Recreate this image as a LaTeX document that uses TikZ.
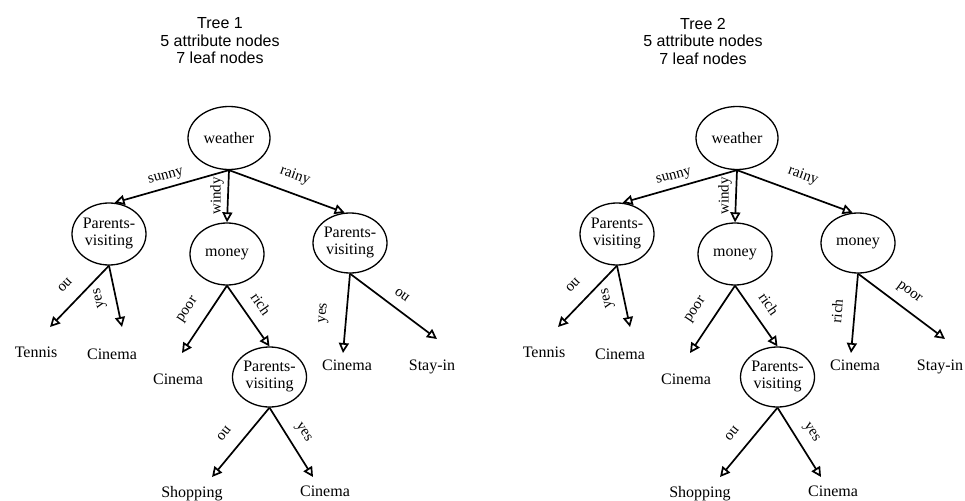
\documentclass[tikz,border=0pt]{standalone}
\usepackage{fontspec}
\setmainfont{Liberation Serif}
\newfontfamily\titlefont{Liberation Sans}
\usetikzlibrary{shapes.geometric, arrows.meta}

% zero-width box, so the ellipse size comes only from its minimum width/height
\newcommand\zw[1]{\makebox[0pt]{#1}}
\newcommand\pvtext{\begin{tabular}{@{}c@{}}Parents-\\visiting\end{tabular}}

\begin{document}
\begin{tikzpicture}[x=1pt, y=-1pt,
  attr/.style={ellipse, draw, line width=1.3pt, minimum width=74pt,
    minimum height=62pt, inner sep=0pt, font=\fontsize{16}{17}\selectfont},
  root/.style={attr, minimum width=82pt, minimum height=63pt},
  leaf/.style={anchor=base, inner sep=0pt, font=\fontsize{16}{17}\selectfont},
  elabel/.style={inner sep=0pt, font=\fontsize{15}{17}\selectfont},
  branch/.style={line width=1.7pt, -{Triangle[open, length=10pt, width=10pt, fill=white]}},
  title/.style={align=center, inner sep=0pt, font=\titlefont\fontsize{16}{17.5}\selectfont}]

\fill[white] (0,0) rectangle (965,500);
\useasboundingbox (0,0) rectangle (965,500);

% ---------- titles ----------
\node[title] (title1) at (220,41) {Tree 1\\5 attribute nodes\\7 leaf nodes};
\node[title] (title2) at (703,41) {Tree 2\\5 attribute nodes\\7 leaf nodes};

% ---------- Tree 1 ----------
\node[root] (w1) at (229,138) {\zw{weather}};
\node[attr] (p1) at (109,234) {\zw{\pvtext}};
\node[attr] (m1) at (227,254) {\zw{money}};
\node[attr, minimum height=60pt] (r1) at (350,243) {\zw{\pvtext}};
\node[attr, minimum height=60pt] (b1) at (269.5,377) {\zw{\pvtext}};

\node[leaf] (l1a) at (36,357) {Tennis};
\node[leaf] (l1b) at (112,359) {Cinema};
\node[leaf] (l1c) at (178,384) {Cinema};
\node[leaf] (l1e) at (347,370) {Cinema};
\node[leaf] (l1f) at (432,370) {Stay-in};
\node[leaf] (l1g) at (192,497) {Shopping};
\node[leaf] (l1h) at (325,496) {Cinema};

\coordinate (t1a) at (50,327);
\coordinate (t1b) at (122,327);
\coordinate (t1c) at (182,353);
\coordinate (t1e) at (343,353);
\coordinate (t1f) at (437,339);
\coordinate (t1g) at (212,477);
\coordinate (t1h) at (313,477);

\draw[branch] (w1.south) -- (p1.80);
\draw[branch] (w1.south) -- (m1.north);
\draw[branch] (w1.south) -- (r1.100);
\draw[branch] (p1.south) -- (t1a);
\draw[branch] (p1.south) -- (t1b);
\draw[branch] (m1.south) -- (t1c);
\draw[branch] (m1.south) -- (b1.north);
\draw[branch] (r1.south) -- (t1e);
\draw[branch] (r1.south) -- (t1f);
\draw[branch] (b1.south) -- (t1g);
\draw[branch] (b1.south) -- (t1h);

\node[elabel, rotate=15] (e1a) at (166,177) {sunny};
\node[elabel, rotate=90] (e1b) at (217,196) {windy};
\node[elabel, rotate=-20] (e1c) at (295,176) {rainy};
\node[elabel, rotate=226] (e1d) at (65,285) {no};
\node[elabel, rotate=103] (e1e) at (100,298) {yes};
\node[elabel, rotate=56] (e1f) at (188,310) {poor};
\node[elabel, rotate=-55] (e1g) at (261,304) {rich};
\node[elabel, rotate=85] (e1h) at (324,313) {yes};
\node[elabel, rotate=144] (e1i) at (402,295) {no};
\node[elabel, rotate=231] (e1j) at (224,434) {no};
\node[elabel, rotate=-57] (e1k) at (303,433) {yes};

% ---------- Tree 2 ----------
\begin{scope}[xshift=508pt]
\node[root] (w2) at (229,138) {\zw{weather}};
\node[attr] (p2) at (109,234) {\zw{\pvtext}};
\node[attr] (m2) at (227,254) {\zw{money}};
\node[attr, minimum height=60pt] (r2) at (350,243) {\zw{money}};
\node[attr, minimum height=60pt] (b2) at (269.5,377) {\zw{\pvtext}};

\node[leaf] (l2a) at (36,357) {Tennis};
\node[leaf] (l2b) at (112,359) {Cinema};
\node[leaf] (l2c) at (178,384) {Cinema};
\node[leaf] (l2e) at (347,370) {Cinema};
\node[leaf] (l2f) at (432,370) {Stay-in};
\node[leaf] (l2g) at (192,497) {Shopping};
\node[leaf] (l2h) at (325,496) {Cinema};

\coordinate (t2a) at (50,327);
\coordinate (t2b) at (122,327);
\coordinate (t2c) at (182,353);
\coordinate (t2e) at (343,353);
\coordinate (t2f) at (437,339);
\coordinate (t2g) at (212,477);
\coordinate (t2h) at (313,477);

\draw[branch] (w2.south) -- (p2.80);
\draw[branch] (w2.south) -- (m2.north);
\draw[branch] (w2.south) -- (r2.100);
\draw[branch] (p2.south) -- (t2a);
\draw[branch] (p2.south) -- (t2b);
\draw[branch] (m2.south) -- (t2c);
\draw[branch] (m2.south) -- (b2.north);
\draw[branch] (r2.south) -- (t2e);
\draw[branch] (r2.south) -- (t2f);
\draw[branch] (b2.south) -- (t2g);
\draw[branch] (b2.south) -- (t2h);

\node[elabel, rotate=15] (e2a) at (166,177) {sunny};
\node[elabel, rotate=90] (e2b) at (217,196) {windy};
\node[elabel, rotate=-20] (e2c) at (295,176) {rainy};
\node[elabel, rotate=226] (e2d) at (65,285) {no};
\node[elabel, rotate=103] (e2e) at (100,298) {yes};
\node[elabel, rotate=56] (e2f) at (188,310) {poor};
\node[elabel, rotate=-55] (e2g) at (261,304) {rich};
\node[elabel, rotate=85] (e2h) at (329,311) {rich};
\node[elabel, rotate=-36] (e2i) at (401,293) {poor};
\node[elabel, rotate=231] (e2j) at (224,434) {no};
\node[elabel, rotate=-57] (e2k) at (303,433) {yes};
\end{scope}
\end{tikzpicture}
\end{document}
